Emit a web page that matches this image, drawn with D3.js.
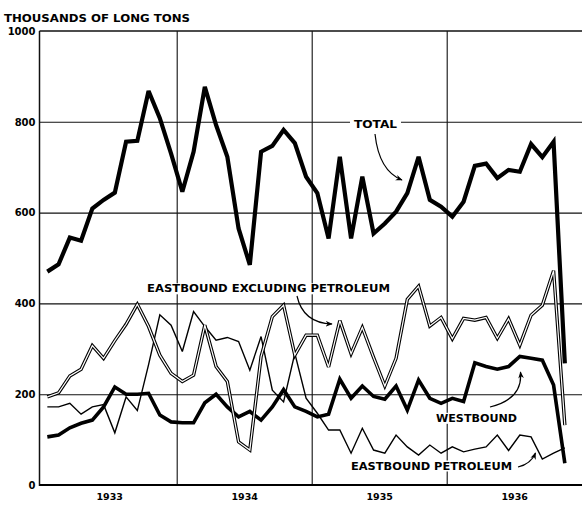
<!DOCTYPE html>
<html>
<head>
<meta charset="utf-8">
<script src="https://cdn.jsdelivr.net/npm/d3@7"></script>
<style>
  html, body { margin: 0; padding: 0; background: #fff; }
  svg { display: block; }
  text { font-family: "DejaVu Sans", "Liberation Sans", sans-serif; font-weight: bold; fill: #000; }
</style>
</head>
<body>
<svg id="chart" width="582" height="505"></svg>
<script>
// ---- data (thousands of long tons), monthly Jan 1933 .. Nov 1936 ----
const years = ["1933", "1934", "1935", "1936"];
const yTicks = [0, 200, 400, 600, 800, 1000];

const total = [470, 486, 545, 538, 609, 628, 644, 756, 758, 868, 808, 730,
  646, 734, 877, 793, 723, 565, 485, 734, 747, 782, 753, 679,
  643, 543, 723, 543, 679, 554, 576, 602, 643, 723, 628, 613,
  591, 624, 703, 708, 676, 694, 690, 751, 722, 756, 268];

const eastboundExclPetroleum = [194, 203, 240, 255, 307, 279, 318, 354, 398, 349, 286, 246,
  228, 242, 352, 261, 228, 95, 77, 283, 371, 396, 286, 330,
  330, 260, 362, 289, 347, 281, 218, 279, 409, 438, 350, 369,
  322, 367, 363, 369, 323, 366, 308, 374, 396, 472, 132];

const westbound = [106, 110, 126, 136, 143, 172, 216, 200, 200, 202, 154, 139,
  137, 137, 181, 200, 172, 150, 162, 143, 172, 210, 172, 162,
  150, 156, 233, 191, 218, 195, 189, 218, 165, 231, 191, 180,
  191, 184, 269, 261, 255, 261, 283, 279, 275, 220, 48];

const eastboundPetroleum = [172, 172, 180, 156, 172, 177, 115, 194, 164, 265, 375, 352,
  294, 382, 349, 319, 325, 316, 253, 327, 209, 183, 290, 191,
  158, 121, 121, 70, 125, 77, 70, 110, 84, 66, 88, 70,
  84, 73, 79, 84, 110, 76, 110, 106, 57, 70, 82];

// ---- layout ----
const W = 582, H = 505;
const plotLeft = 39.5, plotTop = 31, plotBottom = 485;
const svg = d3.select("#chart");

const x = d3.scaleLinear().domain([0, 48]).range([41.7, 581.7]); // month index
const y = d3.scaleLinear().domain([0, 1000]).range([plotBottom, plotTop]);

// arrow marker
svg.append("defs").append("marker")
  .attr("id", "ah").attr("viewBox", "0 0 10 10")
  .attr("refX", 9).attr("refY", 5)
  .attr("markerWidth", 7).attr("markerHeight", 7)
  .attr("markerUnits", "userSpaceOnUse")
  .attr("orient", "auto")
  .append("path").attr("d", "M0,1 L10,5 L0,9 L3,5 Z").attr("fill", "#000");

// ---- grid ----
const gridH = svg.append("g").attr("transform", `translate(${plotLeft},0)`)
  .call(d3.axisLeft(y).tickValues([200, 400, 600, 800]).tickSize(-(W - plotLeft)).tickFormat(""));
gridH.select(".domain").remove();
gridH.selectAll("line").attr("stroke", "#111").attr("stroke-width", 1.1);

const gridV = svg.append("g").attr("transform", `translate(0,${plotBottom})`)
  .call(d3.axisBottom(x).tickValues([12, 24, 36]).tickSize(-(plotBottom - plotTop)).tickFormat(""));
gridV.select(".domain").remove();
gridV.selectAll("line").attr("stroke", "#111").attr("stroke-width", 1.1);

// frame: top, left, bottom
svg.append("line").attr("x1", plotLeft).attr("x2", W).attr("y1", y(1000)).attr("y2", y(1000))
  .attr("stroke", "#111").attr("stroke-width", 1.5);
svg.append("line").attr("x1", plotLeft).attr("x2", plotLeft).attr("y1", y(1000)).attr("y2", y(0) + 1)
  .attr("stroke", "#111").attr("stroke-width", 1.5);
svg.append("line").attr("x1", plotLeft).attr("x2", W).attr("y1", y(0)).attr("y2", y(0))
  .attr("stroke", "#000").attr("stroke-width", 2.2);

// ---- axes labels ----
const yAx = svg.append("g").attr("transform", `translate(${plotLeft},0)`)
  .call(d3.axisLeft(y).tickValues(yTicks).tickSize(0).tickPadding(4).tickFormat(d3.format("d")));
yAx.select(".domain").remove();
yAx.selectAll("text").style("font-size", "10px").style("font-family", "DejaVu Sans").style("font-weight", "bold");

const xAx = svg.append("g").attr("transform", `translate(0,${plotBottom})`)
  .call(d3.axisBottom(x).tickValues([6, 18, 30, 42]).tickSize(0).tickPadding(8.5)
    .tickFormat((d, i) => years[i]));
xAx.select(".domain").remove();
xAx.selectAll("text").style("font-size", "9.5px").style("font-family", "DejaVu Sans").style("font-weight", "bold");

svg.append("text").attr("x", 4).attr("y", 21.5)
  .attr("textLength", 186).attr("lengthAdjust", "spacingAndGlyphs")
  .style("font-size", "11px").text("THOUSANDS OF LONG TONS");

// ---- series ----
const line = d3.line().x((d, i) => x(i + 0.5)).y(d => y(d));
const g = svg.append("g").attr("fill", "none").attr("stroke-linejoin", "miter").attr("stroke-miterlimit", 3);

g.append("path").datum(eastboundPetroleum).attr("d", line)
  .attr("stroke", "#000").attr("stroke-width", 1.4);
g.append("path").datum(westbound).attr("d", line)
  .attr("stroke", "#000").attr("stroke-width", 3.6);
g.append("path").datum(eastboundExclPetroleum).attr("d", line)
  .attr("stroke", "#000").attr("stroke-width", 3.4);
g.append("path").datum(eastboundExclPetroleum).attr("d", line)
  .attr("stroke", "#fff").attr("stroke-width", 1.2);
g.append("path").datum(total).attr("d", line)
  .attr("stroke", "#000").attr("stroke-width", 4.2);

// ---- annotations ----
function label(txt, x0, base, len) {
  const grp = svg.append("g");
  const rect = grp.append("rect").attr("fill", "#fff");
  const t = grp.append("text").attr("x", x0).attr("y", base)
    .attr("textLength", len).attr("lengthAdjust", "spacingAndGlyphs")
    .style("font-size", "11px").text(txt);
  const b = t.node().getBBox();
  rect.attr("x", b.x - 4).attr("y", b.y + 1).attr("width", b.width + 8).attr("height", b.height - 2);
}
label("TOTAL", 354, 128.3, 43);
label("EASTBOUND EXCLUDING PETROLEUM", 147, 292.3, 243);
label("WESTBOUND", 436, 421.8, 81);
label("EASTBOUND PETROLEUM", 351, 469.5, 161);

const arrows = [
  "M375,134 Q379,171 402,180",
  "M297,296 Q303,323 332,324",
  "M490,407 Q523,399 520.5,372",
  "M518,467 Q531,464 535.5,453"
];
svg.append("g").selectAll("path").data(arrows).join("path")
  .attr("d", d => d).attr("fill", "none").attr("stroke", "#000").attr("stroke-width", 1.2)
  .attr("marker-end", "url(#ah)");
</script>
</body>
</html>
